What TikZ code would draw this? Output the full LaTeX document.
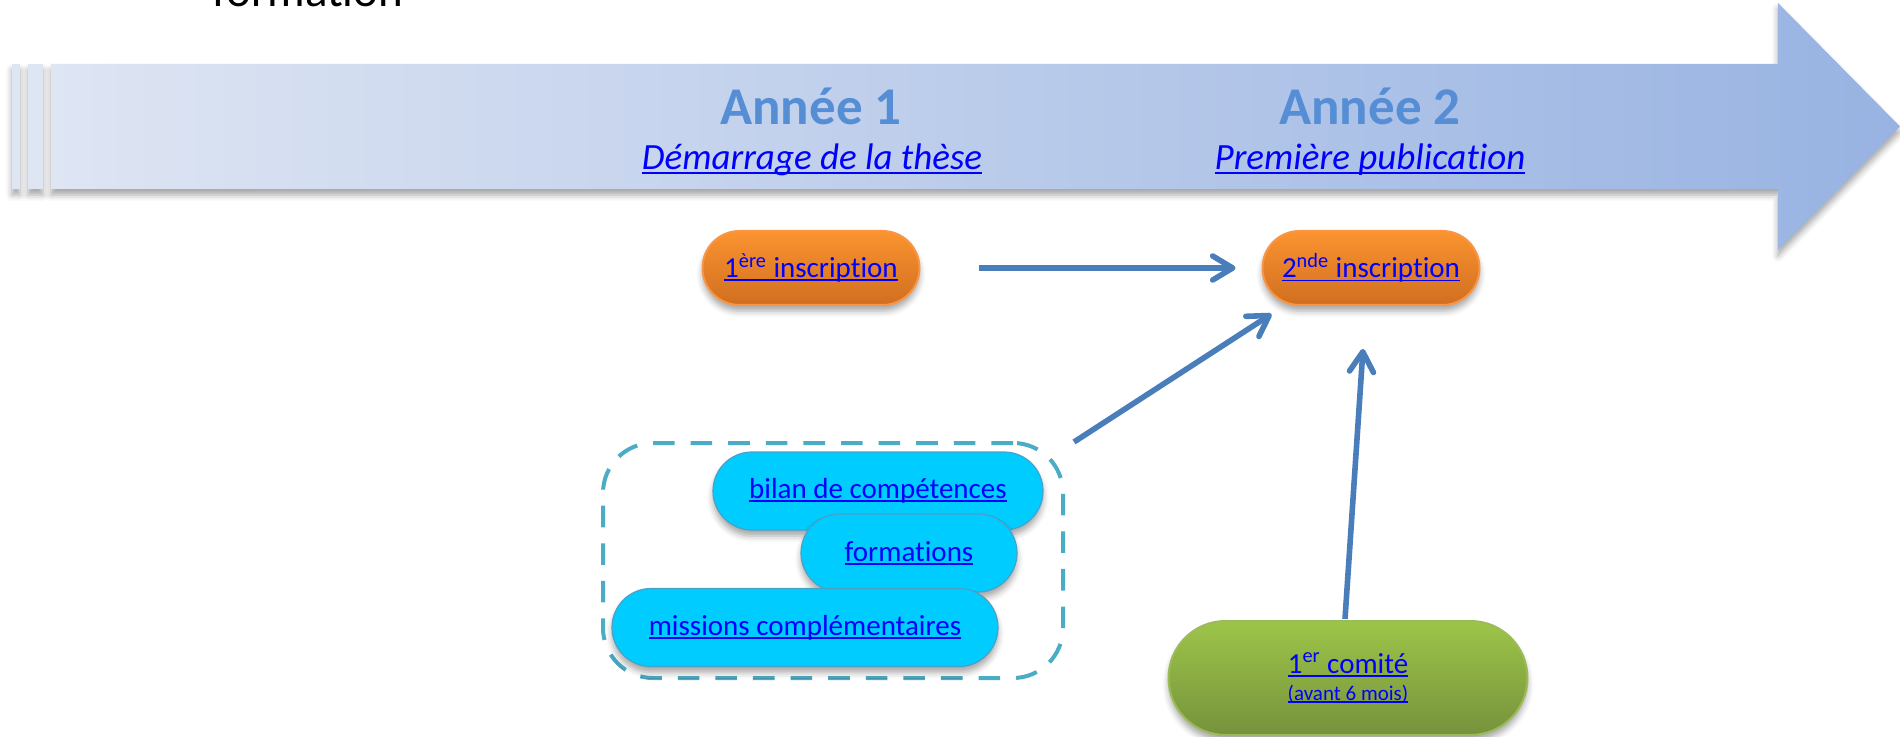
\documentclass[tikz,border=0pt]{standalone}
\usepackage{fontspec}
\setmainfont{Carlito}[RawFeature={-liga;-clig;-calt;-dlig}]
\usetikzlibrary{arrows.meta}
\usetikzlibrary{calc}
\usetikzlibrary{shadows.blur}

\definecolor{bleulien}{RGB}{0,0,255}
\definecolor{bleuannee}{RGB}{86,142,213}
\definecolor{cfleche}{RGB}{74,126,187}
\definecolor{frisea}{RGB}{222,229,243}
\definecolor{friseb}{RGB}{152,179,226}
\definecolor{orangeh}{RGB}{252,147,48}
\definecolor{orangeb}{RGB}{208,111,32}
\definecolor{orangebord}{RGB}{247,150,70}
\definecolor{cyanfond}{RGB}{0,204,255}
\definecolor{cyanbord}{RGB}{75,160,200}
\definecolor{cadrebord}{RGB}{75,172,198}
\definecolor{verth}{RGB}{157,197,73}
\definecolor{vertb}{RGB}{118,146,60}
\definecolor{vertbord}{RGB}{155,187,89}

\newcommand{\lien}[1]{{\color{bleulien}\setbox0\hbox{#1}\rlap{\rule[-0.12em]{\wd0}{0.065em}}\box0}}
% t et i sans ligature
\newcommand{\tii}{t\kern0pt i}

\begin{document}
\begin{tikzpicture}[x=0.5pt,y=0.5pt,yscale=-1,xscale=1,
  ombre/.style={blur shadow={shadow xshift=0pt,shadow yshift=-3pt,shadow blur radius=3pt,shadow opacity=35}},
  inscr/.style={draw=orangebord,line width=1pt,top color=orangeh,bottom color=orangeb,rounded corners=18.5pt,minimum width=108.5pt,minimum height=37pt,inner sep=0pt,ombre,font=\fontsize{14.5}{17}\selectfont},
  volet/.style={draw=cyanbord,line width=0.6pt,fill=cyanfond,rounded corners=19.5pt,minimum height=39pt,inner sep=0pt,ombre,font=\fontsize{14.5}{17}\selectfont},
  comite/.style={draw=vertbord,line width=1pt,top color=verth,bottom color=vertb,rounded corners=28.5pt,minimum width=179.5pt,minimum height=57pt,inner sep=0pt,align=center,ombre,font=\fontsize{14.5}{17}\selectfont},
  cadre/.style={draw=cadrebord,line width=2pt,dash pattern=on 10.8pt off 8pt,rounded corners=25pt,minimum width=230pt,minimum height=117.5pt},
  fleche/.style={draw=cfleche,line width=2.8pt,-{Straight Barb[length=10pt,width=12pt,round]}},
  annee/.style={anchor=base,text=bleuannee,font=\bfseries\fontsize{26.5}{30}\selectfont},
  etape/.style={anchor=base,font=\itshape\fontsize{18.5}{22}\selectfont}]
\useasboundingbox (0,0) rectangle (1900,737);

% Text Node
\node[anchor=base,font=\fontsize{23.5}{28}\selectfont] (formation) at (308,7) {forma\tii on};

%Shape: frise
\fill[frisea,ombre] (12,64) rectangle (20,189);
\fill[frisea,ombre] (28,64) rectangle (43,189);
\shade[left color=frisea,right color=friseb,ombre] (51,64) -- (1778,64) -- (1778,3) -- (1900,126.5) -- (1778,250) -- (1778,189) -- (51,189) -- cycle;

% Text Node
\node[annee] (annee1) at (811,125) {Année 1};
\node[etape] (these) at (812,170) {\lien{Démarrage de la thèse}};
\node[annee] (annee2) at (1370,125) {Année 2};
\node[etape] (publi) at (1370,170) {\lien{Première publica\tii on}};

%Shape: inscriptions
\node[inscr] (ins1) at (811,268) {\lien{1\textsuperscript{ère} inscrip\tii on}};
\node[inscr] (ins2) at (1371,268) {\lien{2\textsuperscript{nde} inscrip\tii on}};

%Shape: cadre + volets
\node[cadre] (cadre) at (833,560.5) {};
\node[volet,minimum width=165pt] (bilan) at (878,491) {\lien{bilan de compétences}};
\node[volet,minimum width=108pt] (forma) at (909,553) {\lien{forma\tii ons}\hspace{11.5pt}};
\node[volet,minimum width=193pt] (missions) at (805,627.5) {\lien{missions complémentaires}};

%Shape: comite
\node[comite] (comite) at (1348,678) {\lien{1\textsuperscript{er} comité}\\[-3.5pt]{\fontsize{10.5}{12}\selectfont\lien{(avant 6 mois)}}};

%Straight Lines
\draw[fleche,shorten <=29pt,shorten >=13pt] (ins1.east) -- (ins2.west);
\draw[fleche] ($(cadre.north east)+(9,1)$) -- ($(ins2.south west)+(10,8)$);
\draw[fleche] ($(comite.north)+(-3,-1)$) -- ($(ins2.south)+(-8,43)$);

\end{tikzpicture}
\end{document}
